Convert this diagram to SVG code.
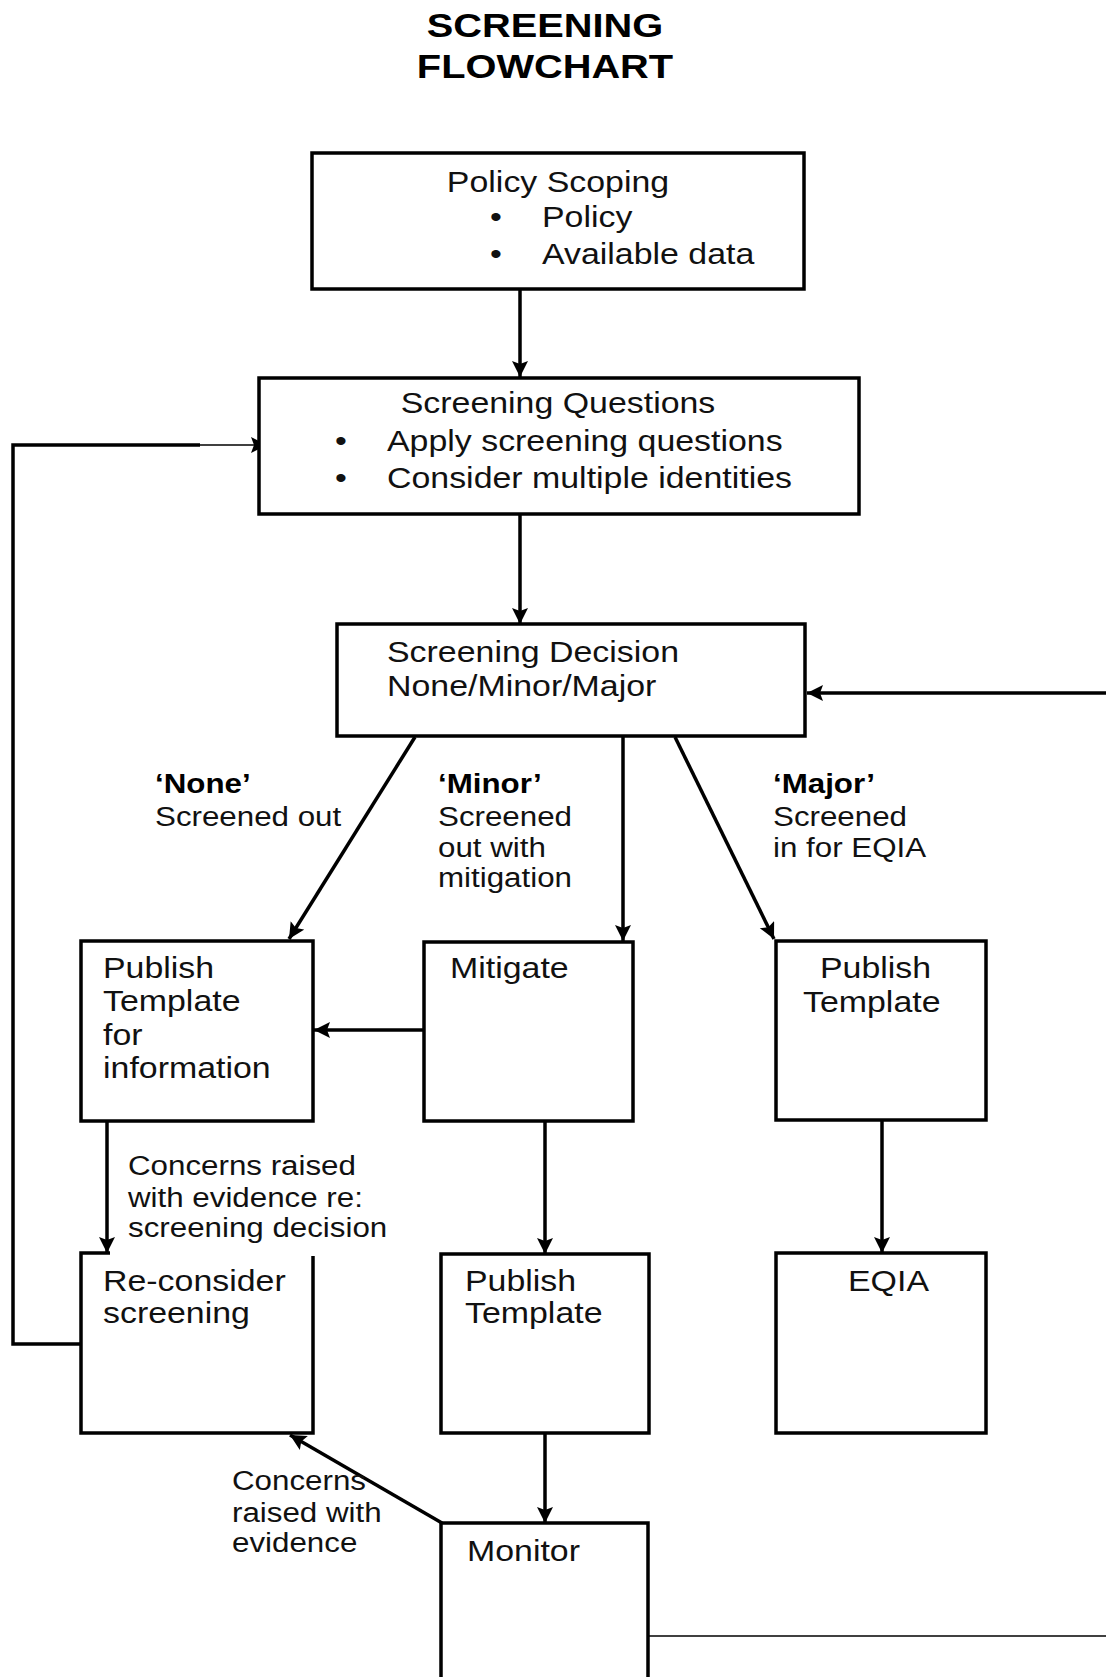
<svg xmlns="http://www.w3.org/2000/svg" width="1106" height="1677" viewBox="0 0 1106 1677">
<style>
text{font-family:"Liberation Sans",Arial,Helvetica,sans-serif;fill:#111}
.t{font-size:30px}
.l{font-size:27px}
.b{font-weight:bold;fill:#000}
.h{font-size:34px;font-weight:bold;fill:#000}
.box{fill:#fff;stroke:#000;stroke-width:3.5}
.c{fill:none;stroke:#000;stroke-width:3.5}
.thin{fill:none;stroke:#000;stroke-width:1.6}
</style>
<defs>
<marker id="arr" markerUnits="userSpaceOnUse" markerWidth="18" markerHeight="18" refX="16" refY="8" orient="auto">
<path d="M0,0 L16,8 L0,16 L3,8 z" fill="#000"/>
</marker>
</defs>
<rect width="1106" height="1677" fill="#fff"/>

<g id="title">
<text class="h" text-anchor="middle" transform="translate(545,37) scale(1.17,1)">SCREENING</text>
<text class="h" text-anchor="middle" transform="translate(545,78) scale(1.17,1)">FLOWCHART</text>
</g>

<g id="connectors">
<path class="c" d="M520,289 L520,377" marker-end="url(#arr)"/>
<path class="c" d="M520,514 L520,624" marker-end="url(#arr)"/>
<path class="c" d="M415,737 L289,939" marker-end="url(#arr)"/>
<path class="c" d="M623,737 L623,941" marker-end="url(#arr)"/>
<path class="c" d="M675,737 L774,939" marker-end="url(#arr)"/>
<path class="c" d="M424,1030 L314,1030" marker-end="url(#arr)"/>
<path class="c" d="M545,1121 L545,1254" marker-end="url(#arr)"/>
<path class="c" d="M107,1121 L107,1253" marker-end="url(#arr)"/>
<path class="c" d="M882,1120 L882,1253" marker-end="url(#arr)"/>
<path class="c" d="M545,1433 L545,1523" marker-end="url(#arr)"/>
<path class="c" d="M442,1523 L290,1435" marker-end="url(#arr)"/>
<path class="c" d="M81,1344 L13,1344 L13,445 L200,445"/>
<path class="thin" d="M199,445 L267,445" marker-end="url(#arr)"/>
<path class="thin" d="M648,1636 L1106,1636"/>
<path class="c" d="M1106,693 L807,693" marker-end="url(#arr)"/>
</g>

<g id="policy-scoping">
<rect class="box" x="312" y="153" width="492" height="136"/>
<text class="t" text-anchor="middle" transform="translate(558,192) scale(1.13,1)">Policy Scoping</text>
<text class="t" transform="translate(490,227) scale(1.13,1)">•</text>
<text class="t" transform="translate(542,227) scale(1.13,1)">Policy</text>
<text class="t" transform="translate(490,264) scale(1.13,1)">•</text>
<text class="t" transform="translate(542,264) scale(1.13,1)">Available data</text>
</g>

<g id="screening-questions">
<rect class="box" x="259" y="378" width="600" height="136"/>
<text class="t" text-anchor="middle" transform="translate(558,413) scale(1.13,1)">Screening Questions</text>
<text class="t" transform="translate(335,451) scale(1.13,1)">•</text>
<text class="t" transform="translate(387,451) scale(1.13,1)">Apply screening questions</text>
<text class="t" transform="translate(335,488) scale(1.13,1)">•</text>
<text class="t" transform="translate(387,488) scale(1.13,1)">Consider multiple identities</text>
</g>

<g id="screening-decision">
<rect class="box" x="337" y="624" width="468" height="112"/>
<text class="t" transform="translate(387,662) scale(1.13,1)">Screening Decision</text>
<text class="t" transform="translate(387,696) scale(1.13,1)">None/Minor/Major</text>
</g>

<g id="label-none">
<text class="l b" transform="translate(155,793) scale(1.16,1)">‘None’</text>
<text class="l" transform="translate(155,826) scale(1.16,1)">Screened out</text>
</g>
<g id="label-minor">
<text class="l b" transform="translate(438,793) scale(1.16,1)">‘Minor’</text>
<text class="l" transform="translate(438,826) scale(1.16,1)">Screened</text>
<text class="l" transform="translate(438,857) scale(1.16,1)">out with</text>
<text class="l" transform="translate(438,887) scale(1.16,1)">mitigation</text>
</g>
<g id="label-major">
<text class="l b" transform="translate(773,793) scale(1.16,1)">‘Major’</text>
<text class="l" transform="translate(773,826) scale(1.16,1)">Screened</text>
<text class="l" transform="translate(773,857) scale(1.16,1)">in for EQIA</text>
</g>

<g id="publish-info">
<rect class="box" x="81" y="941" width="232" height="180"/>
<text class="t" transform="translate(103,978) scale(1.13,1)">Publish</text>
<text class="t" transform="translate(103,1011) scale(1.13,1)">Template</text>
<text class="t" transform="translate(103,1045) scale(1.13,1)">for</text>
<text class="t" transform="translate(103,1078) scale(1.13,1)">information</text>
</g>

<g id="mitigate">
<rect class="box" x="424" y="942" width="209" height="179"/>
<text class="t" transform="translate(450,978) scale(1.13,1)">Mitigate</text>
</g>

<g id="publish-major">
<rect class="box" x="776" y="941" width="210" height="179"/>
<text class="t" transform="translate(820,978) scale(1.13,1)">Publish</text>
<text class="t" transform="translate(803,1012) scale(1.13,1)">Template</text>
</g>

<g id="label-concerns-1">
<text class="l" transform="translate(128,1175) scale(1.16,1)">Concerns raised</text>
<text class="l" transform="translate(128,1207) scale(1.16,1)">with evidence re:</text>
<text class="l" transform="translate(128,1237) scale(1.16,1)">screening decision</text>
</g>

<g id="reconsider">
<path class="box" d="M110,1253 L81,1253 L81,1433 L313,1433 L313,1256"/>
<text class="t" transform="translate(103,1291) scale(1.13,1)">Re-consider</text>
<text class="t" transform="translate(103,1323) scale(1.13,1)">screening</text>
</g>

<g id="publish-minor">
<rect class="box" x="441" y="1254" width="208" height="179"/>
<text class="t" transform="translate(465,1291) scale(1.13,1)">Publish</text>
<text class="t" transform="translate(465,1323) scale(1.13,1)">Template</text>
</g>

<g id="eqia">
<rect class="box" x="776" y="1253" width="210" height="180"/>
<text class="t" transform="translate(848,1291) scale(1.13,1)">EQIA</text>
</g>

<g id="monitor">
<path class="box" d="M441,1690 L441,1523 L648,1523 L648,1690"/>
<text class="t" transform="translate(467,1561) scale(1.13,1)">Monitor</text>
</g>

<g id="label-concerns-2">
<text class="l" transform="translate(232,1490) scale(1.16,1)">Concerns</text>
<text class="l" transform="translate(232,1522) scale(1.16,1)">raised with</text>
<text class="l" transform="translate(232,1552) scale(1.16,1)">evidence</text>
</g>
</svg>
